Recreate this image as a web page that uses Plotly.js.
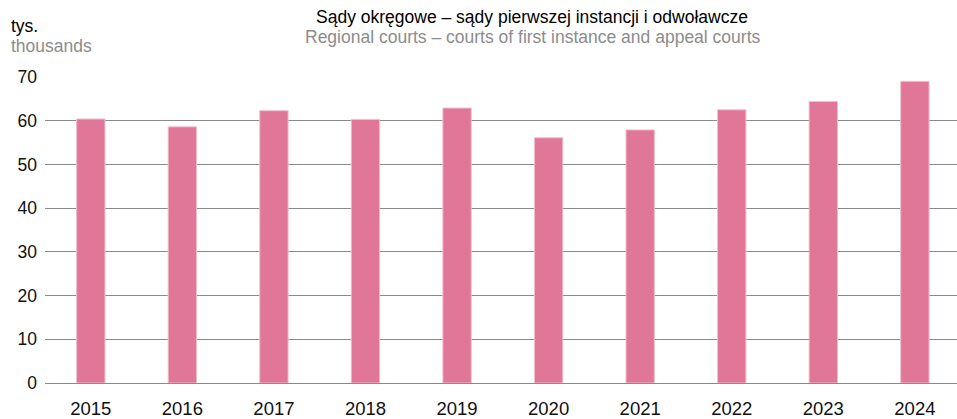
<!DOCTYPE html>
<html>
<head>
<meta charset="utf-8">
<script src="https://cdn.plot.ly/plotly-3.0.1.min.js"></script>
<style>html,body{margin:0;padding:0;background:#fff;}#chart{width:957px;height:419px;}</style>
</head>
<body>
<div id="chart"></div>
<script>
const years = ['2015','2016','2017','2018','2019','2020','2021','2022','2023','2024'];
const values = [60.4, 58.6, 62.3, 60.3, 62.9, 56.1, 57.9, 62.5, 64.4, 69.0];
const yTicks = [0, 10, 20, 30, 40, 50, 60, 70];
const titlePl = 'Sądy okręgowe – sądy pierwszej instancji i odwoławcze';
const titleEn = 'Regional courts – courts of first instance and appeal courts';
const unitPl = 'tys.';
const unitEn = 'thousands';

const font = 'Liberation Sans, Arial, sans-serif';
const ML = 45, MR = 0, MT = 77, MB = 36, W = 957, H = 419;
const trace = {
  type: 'bar', x: years, y: values,
  marker: {color: '#e07798', line: {color: '#f0bfcf', width: 1}},
  width: 0.31, hoverinfo: 'x+y'
};
const plotW = W - ML - MR, plotH = H - MT - MB;
function px(xp){return (xp - ML) / plotW;}
function py(yp){return (H - MB - yp) / plotH;}
const layout = {
  width: W, height: H,
  margin: {l: ML, r: MR, t: MT, b: MB},
  paper_bgcolor: '#fff', plot_bgcolor: '#fff',
  font: {family: font, size: 18, color: '#000'},
  showlegend: false,
  xaxis: {type: 'category', range: [-0.5, 9.46], tickfont: {size: 18.5, color: '#111'}, ticks: '',
          ticklabelstandoff: 12, showgrid: false, showline: false, zeroline: false, fixedrange: true},
  yaxis: {range: [0, 70], tickvals: yTicks, tickfont: {size: 17.5, color: '#111'},
          showgrid: true, gridcolor: '#8a8a8a', gridwidth: 1, zeroline: true,
          zerolinecolor: '#8a8a8a', zerolinewidth: 1, showline: false, ticks: '',
          ticklabelstandoff: 7, fixedrange: true},
  annotations: [
    {text: titlePl, x: px(532), y: py(17), xref: 'paper', yref: 'paper', xanchor: 'center', yanchor: 'middle',
     showarrow: false, font: {size: 17.5, color: '#000', family: font}},
    {text: titleEn, x: px(532), y: py(37), xref: 'paper', yref: 'paper', xanchor: 'center', yanchor: 'middle',
     showarrow: false, font: {size: 17.5, color: '#8c8c8c', family: font}},
    {text: unitPl, x: px(9), y: py(26), xref: 'paper', yref: 'paper', xanchor: 'left', yanchor: 'middle',
     showarrow: false, font: {size: 17.5, color: '#000', family: font}},
    {text: unitEn, x: px(9), y: py(46), xref: 'paper', yref: 'paper', xanchor: 'left', yanchor: 'middle',
     showarrow: false, font: {size: 17.5, color: '#8c8c8c', family: font}}
  ]
};
Plotly.newPlot('chart', [trace], layout, {displayModeBar: false, staticPlot: true});
</script>
</body>
</html>
